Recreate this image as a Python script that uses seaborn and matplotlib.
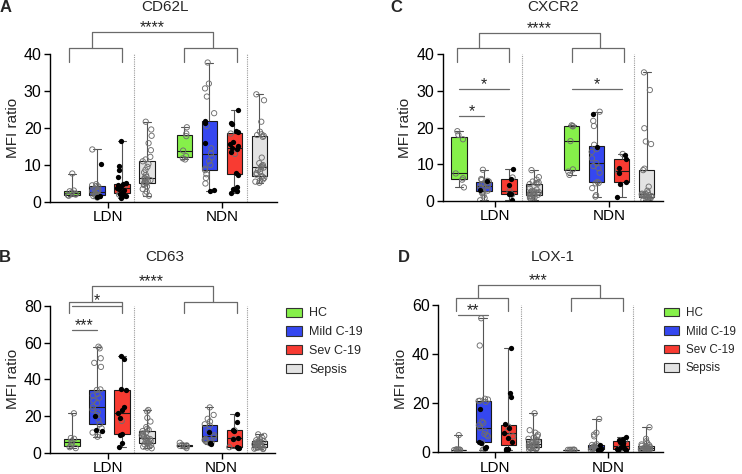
import numpy as np
import pandas as pd
import matplotlib.pyplot as plt
import seaborn as sns
from matplotlib.patches import Patch

groups = ["HC", "Mild C-19", "Sev C-19", "Sepsis"]
cells = ["LDN", "NDN"]
box_colors = ["#86f04a", "#3547f0", "#f83b32", "#e3e3e3"]

# open circles / filled black dots, one list per box
# A - CD62L
cd62l_ldn_hc = [7.7, 3.1, 2.9, 2.6, 2.3, 2.0, 1.8, 1.7]
cd62l_ldn_mild = [14.2, 4.8, 4.5, 4.3, 4.2, 3.6, 3.3, 3.0, 2.9, 2.7, 2.5, 2.3, 2.0, 1.8, 1.7, 1.6, 1.2]
cd62l_ldn_mild_f = [10.2, 1.5, 1.3]
cd62l_ldn_sev = [4.4, 2.4, 2.0]
cd62l_ldn_sev_f = [16.4, 9.8, 8.7, 6.8, 5.2, 4.9, 4.6, 4.2, 3.8, 3.5, 3.2, 2.8, 2.5, 2.2, 1.9, 1.6, 1.2]
cd62l_ldn_sepsis = [21.7, 19.6, 17.9, 15.9, 14.0, 12.2, 11.5, 11.0, 10.3, 9.5, 8.7, 8.0, 7.3, 6.8, 6.5,
                    6.3, 6.1, 5.9, 5.7, 5.5, 5.3, 5.1, 4.9, 4.6, 4.2, 3.5, 2.8, 2.2, 1.7]
cd62l_ndn_hc = [20.2, 18.5, 17.8, 13.9, 12.4, 11.8, 11.5]
cd62l_ndn_mild = [37.7, 32.0, 30.7, 28.5, 24.0, 20.5, 14.5, 13.1, 12.0, 11.0, 10.0, 9.0, 8.6, 7.5, 6.5, 5.0]
cd62l_ndn_mild_f = [21.8, 21.4, 15.9, 3.2, 3.0]
cd62l_ndn_sev = [18.5, 13.0]
cd62l_ndn_sev_f = [24.9, 21.3, 21.0, 19.1, 19.0, 16.2, 15.8, 15.2, 14.7, 14.2, 13.6, 7.8, 7.3, 4.0, 3.6, 3.0, 2.5]
cd62l_ndn_sepsis = [29.1, 27.5, 21.7, 19.0, 18.3, 18.1, 17.9, 17.6, 12.0, 10.5, 10.0, 9.8, 9.5, 9.3, 9.0,
                    8.6, 8.2, 7.8, 7.4, 7.0, 6.8, 6.5, 6.1, 5.8, 5.5, 5.2]

# C - CXCR2
cxcr2_ldn_hc = [19.0, 18.0, 16.8, 7.5, 6.2, 5.8, 3.7]
cxcr2_ldn_mild = [8.5, 6.0, 5.7, 5.5, 5.3, 5.0, 4.8, 4.6, 4.4, 4.2, 3.8, 3.5, 3.2, 2.8, 2.5, 2.2, 1.5, 0.8, 0.2]
cxcr2_ldn_mild_f = [5.4, 3.0]
cxcr2_ldn_sev = [6.4, 2.7, 1.7]
cxcr2_ldn_sev_f = [8.8, 6.0, 4.4, 2.0, 1.9, 0.4]
cxcr2_ldn_sepsis = [8.4, 6.5, 5.8, 5.3, 5.0, 4.9, 4.7, 4.6, 3.5, 3.1, 2.8, 2.6, 2.5, 2.4, 2.3, 2.2,
                    2.0, 1.9, 1.8, 1.7, 1.6, 1.4, 1.2, 1.0, 0.8, 0.5, 0.3]
cxcr2_ndn_hc = [20.6, 20.4, 20.3, 16.3, 8.6, 8.0, 7.1]
cxcr2_ndn_mild = [24.3, 21.8, 20.4, 15.3, 14.1, 13.4, 11.6, 10.3, 9.5, 8.9, 7.7, 5.2, 4.9, 4.8, 3.5, 1.6, 1.2]
cxcr2_ndn_mild_f = [23.6, 14.8]
cxcr2_ndn_sev = [12.8, 8.2]
cxcr2_ndn_sev_f = [12.4, 11.5, 9.0, 7.5, 5.2, 4.5, 1.1]
cxcr2_ndn_sepsis = [35.0, 30.2, 19.8, 16.2, 15.5, 8.8, 8.4, 3.9, 2.8, 2.3, 2.0, 1.9, 1.8, 1.7, 1.6,
                    1.5, 1.4, 1.3, 1.2, 1.1, 1.0, 0.9, 0.7, 0.5, 0.3]

# B - CD63
cd63_ldn_hc = [21.5, 8.0, 7.6, 6.2, 5.0, 4.0, 3.0, 2.5]
cd63_ldn_mild = [57.8, 56.9, 51.5, 49.0, 46.8, 34.5, 34.2, 32.0, 31.2, 30.0, 28.5, 27.0, 25.0, 23.5,
                 22.0, 20.5, 18.0, 15.5, 13.3, 11.0, 9.8, 8.7]
cd63_ldn_mild_f = [20.2, 12.5, 12.0]
cd63_ldn_sev = [17.3]
cd63_ldn_sev_f = [52.7, 51.0, 35.0, 34.4, 24.7, 23.3, 21.5, 18.7, 10.3, 9.6, 5.1, 3.3]
cd63_ldn_sepsis = [23.3, 22.5, 19.0, 17.0, 14.0, 13.0, 12.5, 11.8, 11.0, 10.5, 10.0, 9.5, 9.0, 8.5, 8.0,
                   7.8, 7.5, 7.0, 6.5, 6.0, 5.7, 5.4, 5.0, 4.6, 4.2, 3.8, 3.3, 2.8, 2.4]
cd63_ndn_hc = [5.4, 4.3, 4.0, 3.8, 3.5, 3.3, 2.5]
cd63_ndn_mild = [24.7, 20.6, 18.5, 17.0, 15.5, 14.8, 12.0, 9.5, 8.7, 7.5, 7.0, 6.5, 6.0, 5.6, 5.2]
cd63_ndn_mild_f = [11.1, 5.4, 5.0]
cd63_ndn_sev = [12.2, 7.4, 3.0]
cd63_ndn_sev_f = [21.1, 16.9, 12.4, 12.0, 8.0, 7.5, 2.9, 2.8, 2.6]
cd63_ndn_sepsis = [10.0, 9.2, 8.0, 7.3, 6.8, 6.5, 6.2, 5.9, 5.6, 5.3, 5.0, 4.8, 4.6, 4.4, 4.2, 4.0,
                   3.8, 3.6, 3.4, 3.2, 3.0, 2.8, 2.6, 2.4, 2.2, 2.0]

# D - LOX-1
lox1_ldn_hc = [7.0, 1.2, 1.1, 1.0, 1.0, 1.0, 1.0, 0.9]
lox1_ldn_mild = [54.6, 43.5, 21.8, 21.5, 21.0, 20.9, 20.5, 12.5, 12.0, 11.0, 10.0, 8.5, 7.5, 7.0, 6.5, 4.0, 1.3, 1.0]
lox1_ldn_mild_f = [17.8, 4.2, 3.6, 2.0, 1.6]
lox1_ldn_sev = [10.5, 8.3, 6.5]
lox1_ldn_sev_f = [42.6, 24.0, 22.6, 11.4, 9.8, 7.7, 5.9, 4.3, 1.3, 1.2, 1.1, 1.0]
lox1_ldn_sepsis = [15.9, 9.0, 8.0, 7.2, 6.5, 6.0, 5.5, 5.0, 4.7, 4.4, 4.1, 3.9, 3.7, 3.5, 3.3, 3.1,
                   2.9, 2.7, 2.5, 2.3, 2.1, 1.9, 1.7, 1.5, 1.3, 1.1, 0.9]
lox1_ndn_hc = [1.1, 1.0, 1.0, 1.0, 1.0, 1.0, 0.9]
lox1_ndn_mild = [13.6, 8.0, 7.2, 6.5, 3.3, 3.0, 2.7, 2.4, 2.2, 2.0, 1.8, 1.6, 1.4, 1.2, 1.0, 0.9, 0.8]
lox1_ndn_mild_f = [3.1, 1.5, 1.1]
lox1_ndn_sev = [4.8, 1.8, 1.1]
lox1_ndn_sev_f = [6.4, 5.5, 5.0, 4.3, 3.9, 3.6, 2.5, 2.0, 1.5, 1.2, 1.0, 0.8]
lox1_ndn_sepsis = [10.2, 5.5, 4.5, 3.8, 3.2, 2.9, 2.6, 2.4, 2.2, 2.0, 1.8, 1.7, 1.6, 1.5, 1.4, 1.3,
                   1.2, 1.1, 1.0, 0.9, 0.8, 0.7, 0.6, 0.5, 0.4]

# layout: x position of each (cell, group) box
slot_keys = [(c, g) for c in cells for g in groups]
slot_pos = [0, 1, 2, 3, 4.5, 5.5, 6.5, 7.5]


def long_form(slots):
    rows = []
    for (cell, group), pos, (open_v, filled_v) in zip(slot_keys, slot_pos, slots):
        rows += [(cell, group, pos, v, False) for v in open_v]
        rows += [(cell, group, pos, v, True) for v in filled_v]
    return pd.DataFrame(rows, columns=["cell", "group", "pos", "value", "filled"])


def draw_panel(ax, df, ylim, ystep, xlim, overall, pairs):
    sns.boxplot(data=df, x="pos", y="value", hue="group", hue_order=groups,
                palette=dict(zip(groups, box_colors)), native_scale=True, dodge=False,
                width=0.62, whis=(0, 100), saturation=1, linecolor="#1a1a1a",
                linewidth=0.8, showfliers=False, legend=False, ax=ax,
                whiskerprops=dict(color="#555555"), capprops=dict(color="#555555"))
    n0 = len(ax.collections)
    sns.stripplot(data=df[~df["filled"]], x="pos", y="value", native_scale=True,
                  color="white", edgecolor="#6e6e6e", linewidth=0.65, size=3.8,
                  jitter=0.2, ax=ax, zorder=3)
    for coll in ax.collections[n0:]:
        coll.set_facecolor("none")
    sns.stripplot(data=df[df["filled"]], x="pos", y="value", native_scale=True,
                  color="black", size=3.8, jitter=0.2, ax=ax, zorder=3)

    for xd in (2.5, 7.0):
        ax.axvline(xd, color="#9a9a9a", ls=(0, (1, 1)), lw=0.8, zorder=0)

    ax.set_xlim(*xlim)
    ax.set_ylim(*ylim)
    ax.set_yticks(np.arange(0, ylim[1] + 1, ystep))
    ax.set_xticks([1.45, 6.0], cells)
    ax.set_xlabel("")
    ax.set_ylabel("MFI ratio", fontsize=11, labelpad=3)
    ax.tick_params(axis="y", labelsize=11.5, length=4, width=1, pad=2, colors="black")
    ax.tick_params(axis="x", labelsize=11, length=4, width=1, pad=2, colors="black")
    sns.despine(ax=ax)
    for s in ("left", "bottom"):
        ax.spines[s].set_linewidth(1.0)
        ax.spines[s].set_color("black")

    # bracket LDN vs NDN
    bot, mid, top, label = overall
    br = dict(color="#6a6a6a", lw=0.9, clip_on=False)
    for x0, x1 in ((-0.1, 2.0), (4.5, 6.6)):
        ax.plot([x0, x0, x1, x1], [bot, mid, mid, bot], **br)
    ax.plot([0.8, 0.8, 5.65, 5.65], [mid, top, top, mid], **br)
    ax.text(3.2, top, label, ha="center", va="baseline", fontsize=11.5, clip_on=False)
    for x0, x1, yl, lab in pairs:
        ax.plot([x0, x1], [yl, yl], **br)
        ax.text((x0 + x1) / 2, yl, lab, ha="center", va="baseline", fontsize=11.5, clip_on=False)

    return ax


sns.set_style("ticks")
plt.rcParams["font.family"] = ["Liberation Sans", "DejaVu Sans"]
np.random.seed(3)

fig = plt.figure(figsize=(7.42, 4.74), dpi=100)
W, H = 742, 474


def rect(left, right, top, bottom):
    return [left / W, 1 - bottom / H, (right - left) / W, (bottom - top) / H]


axA = fig.add_axes(rect(50, 277, 54, 202))
axC = fig.add_axes(rect(442.7, 662.7, 54, 201))
axB = fig.add_axes(rect(50, 275, 306, 452.7))
axD = fig.add_axes(rect(438.3, 663, 305, 452.3))

dfA = long_form([(cd62l_ldn_hc, []), (cd62l_ldn_mild, cd62l_ldn_mild_f), (cd62l_ldn_sev, cd62l_ldn_sev_f),
                 (cd62l_ldn_sepsis, []), (cd62l_ndn_hc, []), (cd62l_ndn_mild, cd62l_ndn_mild_f),
                 (cd62l_ndn_sev, cd62l_ndn_sev_f), (cd62l_ndn_sepsis, [])])
dfC = long_form([(cxcr2_ldn_hc, []), (cxcr2_ldn_mild, cxcr2_ldn_mild_f), (cxcr2_ldn_sev, cxcr2_ldn_sev_f),
                 (cxcr2_ldn_sepsis, []), (cxcr2_ndn_hc, []), (cxcr2_ndn_mild, cxcr2_ndn_mild_f),
                 (cxcr2_ndn_sev, cxcr2_ndn_sev_f), (cxcr2_ndn_sepsis, [])])
dfB = long_form([(cd63_ldn_hc, []), (cd63_ldn_mild, cd63_ldn_mild_f), (cd63_ldn_sev, cd63_ldn_sev_f),
                 (cd63_ldn_sepsis, []), (cd63_ndn_hc, []), (cd63_ndn_mild, cd63_ndn_mild_f),
                 (cd63_ndn_sev, cd63_ndn_sev_f), (cd63_ndn_sepsis, [])])
dfD = long_form([(lox1_ldn_hc, []), (lox1_ldn_mild, lox1_ldn_mild_f), (lox1_ldn_sev, lox1_ldn_sev_f),
                 (lox1_ldn_sepsis, []), (lox1_ndn_hc, []), (lox1_ndn_mild, lox1_ndn_mild_f),
                 (lox1_ndn_sev, lox1_ndn_sev_f), (lox1_ndn_sepsis, [])])

draw_panel(axA, dfA, (0, 40), 10, (-0.87, 8.2), (37.8, 41.6, 46.0, "****"), [])
draw_panel(axC, dfC, (0, 40), 10, (-0.66, 8.14), (37.8, 41.6, 45.7, "****"),
           [(0, 2, 30.5, "*"), (0, 1, 23.2, "*"), (4.5, 6.5, 30.5, "*")])
draw_panel(axB, dfB, (0, 80), 20, (-0.87, 8.13), (76, 82.3, 91, "****"),
           [(0, 2, 80.2, "*"), (0, 1, 66.9, "***")])
draw_panel(axD, dfD, (0, 60), 20, (-0.8, 8.19), (57.4, 62.7, 68.1, "***"),
           [(0, 1.2, 55.9, "**")])

# titles and panel letters
for x, y, t in ((165, 7, "CD62L"), (553, 7, "CXCR2"), (165, 257, "CD63"), (553, 257, "LOX-1")):
    fig.text(x / W, 1 - y / H, t, ha="center", va="center", fontsize=11)
for x, y, t in ((6, 7, "A"), (396, 7, "C"), (5, 257, "B"), (404, 257, "D")):
    fig.text(x / W, 1 - y / H, t, ha="center", va="center", fontsize=12, fontweight="bold")

handles = [Patch(facecolor=c, edgecolor="#333333", lw=0.8) for c in box_colors]
for ax, bx, by, fs in ((axB, 1.049, 0.99, 9), (axD, 1.005, 0.985, 8.4)):
    ax.legend(handles, groups, loc="upper left", bbox_to_anchor=(bx, by), frameon=False,
              fontsize=fs, borderpad=0, borderaxespad=0, handlelength=1.3,
              handleheight=0.75, handletextpad=0.55, labelspacing=0.55)

fig.savefig("out.png", dpi=100)
